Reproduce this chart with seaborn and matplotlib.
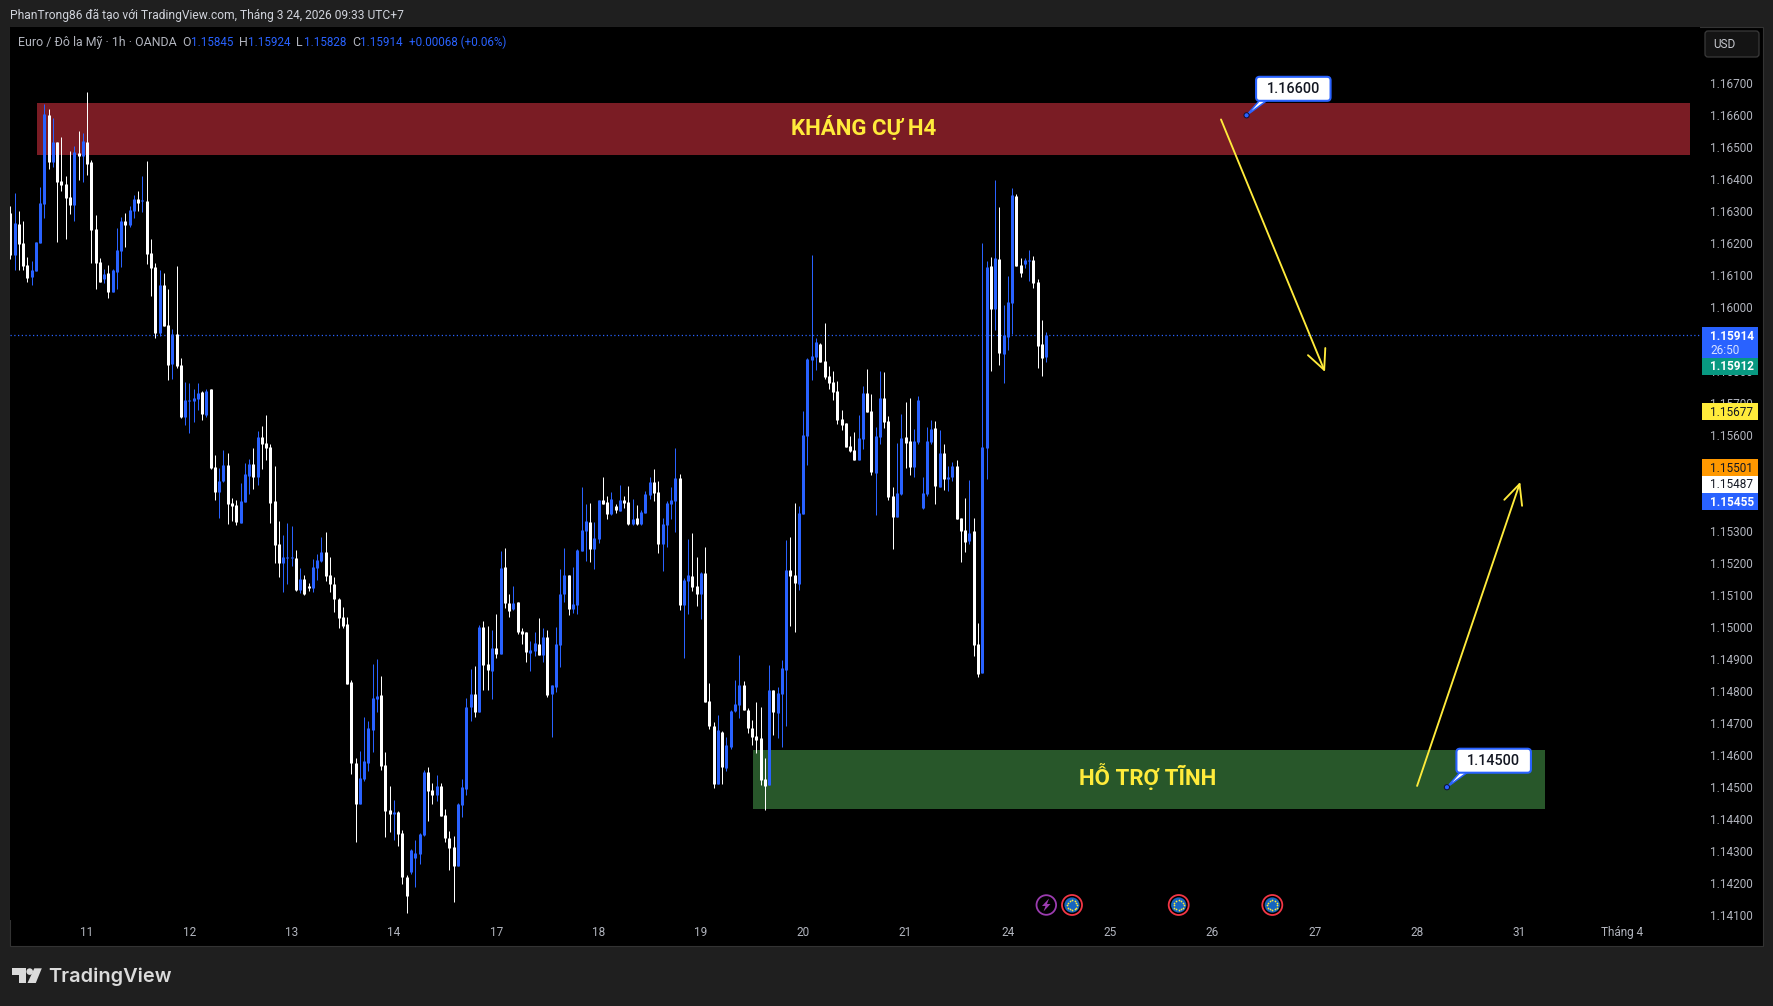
import numpy as np
import pandas as pd
import matplotlib
matplotlib.use("Agg")
import matplotlib.pyplot as plt
from matplotlib.patches import Rectangle, FancyBboxPatch, Polygon, Circle
import seaborn as sns

# Hourly EUR/USD candles, quoted in points (1e-5)
highs = [
    116316,116357,116301,116269,116157,116144,116204,116376,116635,116619,
    116591,116516,116532,116410,116488,116504,116551,116544,116672,116460,
    116288,116154,116119,116132,116119,116247,116282,116294,116316,116351,
    116363,116410,116457,116213,116138,116116,116107,116057,115932,116129,
    115842,115767,115764,115745,115764,115739,115745,115745,115539,115498,
    115554,115545,115404,115398,115451,115514,115526,115560,115614,115629,
    115664,115573,115504,115332,115289,115326,115317,115242,115185,115164,
    115139,115214,115229,115282,115298,115220,115157,115092,115063,115032,
    114835,114591,114613,114719,114707,114885,114901,114847,114610,114504,
    114460,114426,114366,114226,114307,114335,114357,114554,114563,114513,
    114538,114513,114432,114363,114347,114451,114526,114779,114869,114879,
    115007,115019,115004,114991,115041,115238,115248,115104,115129,115079,
    114998,114985,114957,114985,115029,114998,114992,114820,115001,115182,
    115248,115163,115188,115245,115438,115385,115388,115329,115398,115470,
    115410,115423,115385,115445,115410,115441,115401,115382,115366,115426,
    115470,115495,115457,115341,115395,115438,115560,115479,115154,115276,
    115295,115220,115173,115251,114826,114704,114726,114676,114657,114741,
    114835,114913,114832,114747,114710,114766,114751,114591,114882,114804,
    114813,114897,115272,115282,115388,115379,115676,115841,116163,115904,
    115888,115951,115816,115801,115769,115679,115638,115597,115610,115663,
    115754,115807,115729,115626,115801,115797,115660,115438,115576,115666,
    115704,115716,115619,115722,115469,115626,115647,115644,115616,115572,
    115504,115516,115522,115341,115404,115460,115341,115013,116201,116145,
    116157,116398,116313,116007,116098,116373,116354,116154,116154,116179,
    116160,116088,115960,115924,
]
body_tops = [
    116294,116263,116260,116201,116132,116116,116204,116326,116604,116601,
    116516,116516,116394,116385,116344,116485,116482,116519,116516,116454,
    116244,116141,116104,116107,116116,116179,116269,116269,116304,116338,
    116338,116335,116332,116169,116126,116069,116069,115944,115916,115916,
    115820,115710,115710,115717,115732,115735,115739,115745,115501,115457,
    115507,115507,115389,115382,115395,115479,115510,115510,115595,115595,
    115576,115564,115395,115260,115220,115220,115220,115217,115151,115151,
    115129,115189,115210,115235,115235,115164,115135,115089,115032,115010,
    114829,114576,114529,114582,114685,114779,114785,114788,114569,114429,
    114422,114422,114357,114219,114304,114294,114354,114547,114547,114491,
    114504,114504,114413,114341,114313,114447,114501,114751,114791,114791,
    115001,115001,114885,114935,114935,115185,115188,115076,115076,115079,
    114988,114985,114929,114951,114948,114970,114970,114820,114948,115104,
    115163,115163,115073,115241,115304,115332,115329,115279,115398,115398,
    115391,115401,115379,115398,115398,115391,115338,115341,115360,115416,
    115454,115454,115423,115323,115388,115398,115466,115466,115148,115163,
    115160,115129,115170,115170,114769,114691,114679,114672,114632,114738,
    114760,114819,114819,114741,114685,114660,114654,114526,114804,114804,
    114794,114872,115179,115179,115163,115357,115601,115838,115847,115891,
    115885,115832,115785,115766,115738,115651,115638,115566,115554,115591,
    115732,115732,115676,115597,115716,115716,115644,115410,115419,115591,
    115594,115582,115582,115710,115419,115582,115619,115622,115544,115544,
    115469,115504,115504,115341,115304,115295,115301,114948,115563,116126,
    116129,116154,116151,115913,116016,116351,116348,116132,116148,116148,
    116148,116079,115885,115914,
]
body_bottoms = [
    116163,116163,116197,116129,116091,116094,116113,116201,116322,116454,
    116454,116391,116382,116341,116319,116319,116472,116472,116447,116241,
    116138,116079,116088,116047,116047,116110,116176,116257,116257,116301,
    116326,116333,116166,116122,115919,115919,115941,115820,115823,115817,
    115657,115657,115707,115707,115714,115667,115664,115498,115423,115423,
    115457,115385,115379,115329,115326,115392,115473,115470,115470,115573,
    115560,115389,115257,115201,115201,115217,115217,115117,115117,115104,
    115123,115123,115185,115207,115160,115135,115089,115029,115004,114822,
    114576,114447,114447,114526,114576,114679,114776,114566,114426,114416,
    114416,114354,114219,114160,114235,114279,114291,114351,114488,114476,
    114476,114410,114341,114310,114254,114254,114444,114494,114751,114735,
    114735,114882,114866,114863,114916,114917,115076,115051,115057,114985,
    114979,114923,114920,114926,114913,114913,114788,114792,114813,114945,
    115104,115057,115057,115070,115238,115301,115245,115245,115276,115385,
    115354,115354,115366,115363,115388,115323,115323,115323,115323,115357,
    115413,115420,115260,115260,115320,115385,115395,115070,115070,115145,
    115126,115104,115104,114766,114691,114510,114510,114563,114560,114626,
    114738,114757,114741,114685,114657,114647,114522,114504,114507,114735,
    114732,114791,114866,115160,115138,115135,115354,115597,115835,115844,
    115829,115782,115763,115735,115647,115632,115563,115551,115522,115522,
    115588,115672,115485,115482,115594,115641,115407,115344,115344,115416,
    115576,115501,115501,115579,115372,115416,115579,115441,115438,115463,
    115463,115469,115338,115301,115267,115270,114945,114854,114857,115560,
    115995,115995,115857,115854,115907,116013,116129,116107,116135,116145,
    116076,115879,115841,115845,
]
lows = [
    116151,116116,116116,116116,116079,116069,116113,116201,116279,116432,
    116438,116204,116363,116213,116291,116269,116397,116391,116413,116138,
    116057,116079,116076,116029,116047,116057,116126,116188,116251,116279,
    116301,116297,116135,116035,115904,115910,115941,115773,115776,115810,
    115654,115632,115607,115642,115679,115648,115657,115495,115398,115342,
    115454,115323,115332,115320,115326,115392,115417,115432,115445,115495,
    115523,115326,115201,115157,115110,115135,115192,115114,115107,115101,
    115114,115110,115148,115204,115145,115110,115048,114997,114997,114822,
    114541,114329,114447,114519,114551,114610,114735,114554,114344,114360,
    114335,114316,114197,114107,114229,114188,114260,114347,114394,114447,
    114457,114410,114329,114241,114141,114254,114407,114476,114707,114719,
    114735,114804,114804,114776,114904,114917,115060,115032,115054,114979,
    114948,114892,114863,114910,114913,114892,114782,114657,114798,114876,
    115079,115038,115045,115041,115238,115207,115204,115182,115263,115385,
    115338,115351,115357,115363,115373,115320,115320,115320,115320,115357,
    115401,115395,115232,115176,115251,115338,115298,115054,114904,115041,
    115113,115066,115026,114766,114682,114497,114510,114510,114551,114619,
    114735,114716,114741,114669,114632,114607,114507,114429,114507,114663,
    114654,114626,114691,115004,114985,115116,115354,115507,115772,115804,
    115829,115776,115744,115710,115635,115616,115563,115547,115522,115522,
    115557,115672,115476,115351,115572,115622,115397,115244,115344,115413,
    115497,115476,115469,115572,115369,115410,115572,115385,115438,115429,
    115426,115457,115338,115204,115235,115260,114910,114845,114857,115463,
    115801,115929,115820,115763,115866,115916,116129,116095,116123,116082,
    116060,115810,115785,115828,
]
# U = close above open, D = close below open
directions = list(
    "DUDDDUUUUD" "UDDDDUDUDD" "DDUDUUUDUU" "DUDDDUDDUD" "DUUUUDUDDU"
    "UDDDUUUDUD" "DDDDUUUDUD" "DUUUDDDDDD" "DDUUUUUDDD" "UDDDUUUUDD"
    "UDDDDUUUUD" "UDDUDUDDUD" "DDUUDUDUUU" "UDUUUUDUUD" "DUDUDDUDUU"
    "UDDUUUUDUU" "DDUDDDUDUU" "UUDDDDDDUD" "UUUDDUUUUU" "DDDDDDDDDU"
    "UDDUUDDDUU" "DDUUUUUDUD" "UUDDDUDDUU" "DUDUUUDDUU" "DDDU"
)

# Time axis: bar index of each day label
day_ticks = [18, 42, 66, 90, 114, 138, 162, 186, 210, 234, 258, 282, 306, 330, 354, 378]
day_labels = ["11", "12", "13", "14", "17", "18", "19", "20", "21", "24",
              "25", "26", "27", "28", "31", "Tháng 4"]
price_ticks = [1.141 + 0.001 * k for k in range(27)]
# Scale labels that sit fully under the price tags
covered_ticks = {"1.15900", "1.15500", "1.15400"}

# Drawn levels and zones
resistance_zone = (6.26, 394.0, 1.16476, 1.16638)
support_zone = (174.2, 359.9, 1.14433, 1.14617)
last_close = 1.15914
down_path = ((284.0, 1.16587), (308.4, 1.15798))
up_path = ((330.0, 1.14504), (354.2, 1.15454))
callouts = [(290.0, 1.16600), (337.0, 1.14500)]

# Price-scale tags: value, second line, fill, text colour, top and bottom pixel rows
price_tags = [
    ("1.15914", "26:50", "#2962FF", "white", 327, 358),
    ("1.15912", None, "#089981", "white", 358, 375),
    ("1.15677", None, "#FFEB3B", "#131722", 403, 420),
    ("1.15501", None, "#FF9800", "#131722", 459, 476),
    ("1.15487", None, "#FFFFFF", "#131722", 476, 493),
    ("1.15455", None, "#2962FF", "white", 493, 510),
]

BLUE = "#2962FF"
YELLOW = "#FFEB3B"
PANEL = "#1F1F1F"
MUTED = "#B2B5BE"
W, H = 1773, 1006

sns.set_theme(style="dark", rc={
    "figure.facecolor": PANEL, "axes.facecolor": "black",
    "axes.edgecolor": "black", "axes.grid": False,
    "lines.solid_capstyle": "butt",
})
plt.rcParams["font.family"] = ["Roboto", "DejaVu Sans"]

candles = pd.DataFrame({
    "bar": np.arange(len(highs)), "high": highs, "top": body_tops,
    "bottom": body_bottoms, "low": lows, "dir": directions,
})
candles[["high", "top", "bottom", "low"]] /= 1e5
palette = {"U": BLUE, "D": "#FFFFFF"}

wicks = candles.melt(id_vars=["bar", "dir"], value_vars=["high", "low"], value_name="price")
bodies = candles.melt(id_vars=["bar", "dir"], value_vars=["top", "bottom"], value_name="price")

fig = plt.figure(figsize=(W / 100, H / 100), dpi=100, facecolor=PANEL)

# Background layer in pixel coordinates: chart pane and price scale
back = fig.add_axes([0, 0, 1, 1], zorder=0)
back.set_xlim(0, W); back.set_ylim(H, 0); back.axis("off")
back.add_patch(Rectangle((9.5, 26.5), 1753.5, 919, fc="black", ec="#333333", lw=0.8))

ax = fig.add_axes([10 / W, (H - 920) / H, (1700 - 10) / W, (920 - 27) / H], zorder=1)
ax.set_xlim((10 - 10.3) / 4.263, (1700 - 10.3) / 4.263)
ax.set_ylim(1.14085, 1.16876)
for s in ax.spines.values():
    s.set_visible(False)

for (x0, x1, y0, y1), colour in ((resistance_zone, "#7A1C24"), (support_zone, "#28572A")):
    ax.add_patch(Rectangle((x0, y0), x1 - x0, y1 - y0, fc=colour, ec="none", zorder=1))
ax.axhline(last_close, color=BLUE, lw=0.9, ls=(0, (1, 2)), zorder=2)

sns.lineplot(data=wicks, x="bar", y="price", hue="dir", units="bar", estimator=None,
             palette=palette, sort=False, legend=False, lw=0.72, ax=ax, zorder=3,
             solid_capstyle="butt")
sns.lineplot(data=bodies, x="bar", y="price", hue="dir", units="bar", estimator=None,
             palette=palette, sort=False, legend=False, lw=2.16, ax=ax, zorder=4,
             solid_capstyle="butt")

ax.set_xlabel(""); ax.set_ylabel("")
ax.set_xticks(day_ticks, day_labels)
tick_text = [f"{p:.5f}" for p in price_ticks]
ax.set_yticks(price_ticks, ["" if t in covered_ticks else t for t in tick_text])
ax.yaxis.tick_right()
ax.tick_params(axis="x", length=0, pad=4.6, labelsize=8.5, labelcolor=MUTED)
ax.tick_params(axis="y", length=0, pad=7.2, labelsize=8.5, labelcolor=MUTED)
for lab in ax.get_yticklabels():
    lab.set_ha("left")

zone_font = dict(color=YELLOW, fontweight="bold", ha="center", va="center",
                 family="Roboto", fontsize=16, zorder=6)
ax.text(sum(resistance_zone[:2]) / 2, 1.16561, "KHÁNG CỰ H4", **zone_font)
ax.text(266.9, 1.14535, "HỖ TRỢ TĨNH", **zone_font)

for start, end in (down_path, up_path):
    ax.annotate("", xy=end, xytext=start, zorder=6, annotation_clip=False,
                arrowprops=dict(arrowstyle="->,head_length=0.95,head_width=0.45",
                                color=YELLOW, lw=1.35, shrinkA=0, shrinkB=0, mutation_scale=15))

# Foreground layer in pixel coordinates: header, tags, callouts, event badges, logo
top = fig.add_axes([0, 0, 1, 1], zorder=2)
top.set_xlim(0, W); top.set_ylim(H, 0); top.axis("off")
top.patch.set_alpha(0)


def to_pixels(x, y):
    px, py = ax.transData.transform((x, y))
    return px, H - py


for x, price in callouts:
    px, py = to_pixels(x, price)
    top.add_patch(Polygon([(px, py), (px + 14, py - 16), (px + 22, py - 16)],
                          fc="white", ec=BLUE, lw=1.1, zorder=2))
    top.add_patch(FancyBboxPatch((px + 9.5, py - 38.5), 74.5, 24,
                                 boxstyle="round,pad=0,rounding_size=3.5",
                                 fc="white", ec=BLUE, lw=1.5, zorder=3))
    top.text(px + 46.7, py - 26.5, f"{price:.5f}", color="#131722", fontsize=10.4,
             fontweight="medium", ha="center", va="center", zorder=4)
    top.add_patch(Circle((px, py), 2.6, fc=BLUE, ec="#101030", lw=0.7, zorder=5))

top.text(9.5, 15.3, "PhanTrong86 đã tạo với TradingView.com, Tháng 3 24, 2026 09:33 UTC+7",
         color="#D1D4DC", fontsize=8.65, va="center")

header = [
    (17.9, "Euro / Đô la Mỹ · 1h · OANDA", MUTED, 8.9), (182, "O", MUTED, 8.9),
    (191, "1.15845", BLUE, 8.35), (239, "H", MUTED, 8.9), (248, "1.15924", BLUE, 8.35),
    (296.4, "L", MUTED, 8.9), (303.6, "1.15828", BLUE, 8.35), (351.8, "C", MUTED, 8.9),
    (360, "1.15914", BLUE, 8.35), (409, "+0.00068 (+0.06%)", BLUE, 8.35),
]
for x, text, colour, size in header:
    top.text(x, 42.6, text, color=colour, fontsize=size, va="center")

for value, extra, fill, ink, y0, y1 in price_tags:
    top.add_patch(Rectangle((1702, y0), 55.7, y1 - y0, fc=fill, ec="none"))
    if extra:
        top.text(1710, y0 + 9, value, color=ink, fontsize=8.5, fontweight="bold", va="center")
        top.text(1710, y0 + 23, extra, color="#D8E2FF", fontsize=8.5, va="center")
    else:
        top.text(1710, (y0 + y1) / 2 + 0.5, value, color=ink, fontsize=8.5, va="center",
                 fontweight="bold" if ink == "white" else "normal")

top.add_patch(FancyBboxPatch((1705, 31), 54, 26, boxstyle="round,pad=0,rounding_size=3",
                             fc="#141414", ec="#3A3A3A", lw=0.9))
top.text(1713, 44.5, "USD", color="#C8CAD0", fontsize=8.5, va="center")

# Economic-calendar badges
top.add_patch(Circle((1046.3, 905), 9.8, fc="black", ec="#9C3CB0", lw=1.3))
top.add_patch(Polygon([(1049, 898.5), (1042, 906), (1045.5, 906), (1043.5, 911.5),
                       (1050.5, 904), (1047, 904)], fc="#9C3CB0", ec="none"))
for cx in (1072, 1178.7, 1272.3):
    top.add_patch(Circle((cx, 905), 10, fc="black", ec="#F23645", lw=1.3))
    top.add_patch(Circle((cx, 905), 7.6, fc="#1565C0", ec="none"))
    angles = np.linspace(0, 2 * np.pi, 12, endpoint=False)
    top.scatter(cx + 5 * np.cos(angles), 905 + 5 * np.sin(angles), s=1.6, c=YELLOW, linewidths=0)

# TradingView wordmark
mark = "#DBDBDB"
top.add_patch(Rectangle((12, 968.3), 13.8, 6.5, fc=mark, ec="none"))
top.add_patch(Rectangle((18.8, 968.3), 7, 14.7, fc=mark, ec="none"))
top.add_patch(Circle((29.7, 971.6), 3.3, fc=mark, ec="none"))
top.add_patch(Polygon([(34.3, 968.3), (41.8, 968.3), (35.8, 983), (27.5, 983)], fc=mark, ec="none"))
top.text(47.8, 976.5, "TradingView", color=mark, fontsize=14.4, fontweight="semibold",
         family="Inter", va="center")

fig.savefig("out.png", dpi=100, facecolor=PANEL)
